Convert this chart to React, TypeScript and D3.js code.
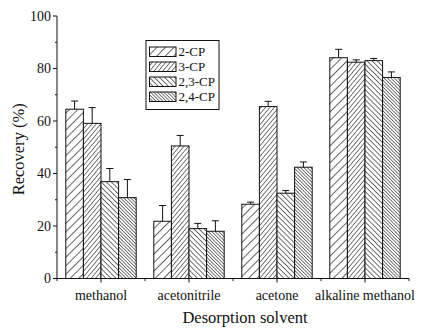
import React from "react";
import * as d3 from "d3";

const categories = ["methanol", "acetonitrile", "acetone", "alkaline methanol"];
const seriesNames = ["2-CP", "3-CP", "2,3-CP", "2,4-CP"];
const values2CP = [64.5, 21.8, 28.3, 84.1];
const values3CP = [59.1, 50.5, 65.5, 82.4];
const values23CP = [36.9, 19.0, 32.5, 83.0];
const values24CP = [30.8, 18.0, 42.4, 76.6];
const err2CP = [3.1, 6.0, 0.8, 3.2];
const err3CP = [6.0, 4.0, 2.0, 0.9];
const err23CP = [5.0, 2.0, 1.0, 0.8];
const err24CP = [6.9, 4.0, 2.0, 2.1];
const yTicks = [0, 20, 40, 60, 80, 100];

const seriesValues = [values2CP, values3CP, values23CP, values24CP];
const seriesErrors = [err2CP, err3CP, err23CP, err24CP];
const patternIds = ["p0", "p1", "p2", "p3"];

const W = 426, H = 332;
const left = 57, right = 409, top = 16, bottom = 278.5;
const FONT = "'Liberation Serif', 'Times New Roman', serif";

export default function App() {
  const x = d3.scaleLinear().domain([0.5, 4.5]).range([left, right]);
  const y = d3.scaleLinear().domain([0, 100]).range([bottom, top]);
  const barW = x(0.2) - x(0);
  const minorY = d3.range(10, 100, 20);
  const minorX = [0.5, 1.5, 2.5, 3.5, 4.5];

  return (
    <svg width={W} height={H} style={{ display: "block", position: "absolute", left: 0, top: 0 }} fontFamily={FONT}>
      <defs>
        <pattern id="p0" patternUnits="userSpaceOnUse" width={6} height={6} patternTransform="rotate(45)">
          <rect width={6} height={6} fill="#fff" />
          <line x1={0} y1={0} x2={0} y2={6} stroke="#222" strokeWidth={1.4} />
        </pattern>
        <pattern id="p1" patternUnits="userSpaceOnUse" width={3.4} height={3.4} patternTransform="rotate(40)">
          <rect width={3.4} height={3.4} fill="#fff" />
          <line x1={0} y1={0} x2={0} y2={3.4} stroke="#222" strokeWidth={1.2} />
        </pattern>
        <pattern id="p2" patternUnits="userSpaceOnUse" width={3.6} height={3.6} patternTransform="rotate(-45)">
          <rect width={3.6} height={3.6} fill="#fff" />
          <line x1={0} y1={0} x2={0} y2={3.6} stroke="#222" strokeWidth={1.3} />
        </pattern>
        <pattern id="p3" patternUnits="userSpaceOnUse" width={2.4} height={2.4} patternTransform="rotate(-45)">
          <rect width={2.4} height={2.4} fill="#fff" />
          <line x1={0} y1={0} x2={0} y2={2.4} stroke="#222" strokeWidth={1.2} />
        </pattern>
      </defs>
      <rect width={W} height={H} fill="#fff" />

      {/* bars */}
      {seriesValues.map((vals, si) =>
        vals.map((v, ci) => {
          const x0 = x(ci + 1 - 0.4 + si * 0.2);
          const cx = x0 + barW / 2;
          const e = seriesErrors[si][ci];
          return (
            <g key={`${si}-${ci}`}>
              <line x1={cx} x2={cx} y1={y(v)} y2={y(v + e)} stroke="#111" strokeWidth={1} />
              <line x1={cx - 3.5} x2={cx + 3.5} y1={y(v + e)} y2={y(v + e)} stroke="#111" strokeWidth={1} />
              <rect x={x0} y={y(v)} width={barW} height={y(0) - y(v)} fill={`url(#${patternIds[si]})`} stroke="#111" strokeWidth={1} />
            </g>
          );
        })
      )}

      {/* axes */}
      <line x1={left} x2={left} y1={top} y2={bottom} stroke="#111" strokeWidth={1} />
      <line x1={left} x2={right} y1={bottom} y2={bottom} stroke="#111" strokeWidth={1} />
      {yTicks.map((t) => (
        <g key={t}>
          <line x1={left - 4} x2={left} y1={y(t)} y2={y(t)} stroke="#111" />
          <text x={left - 6} y={y(t)} dy="0.35em" textAnchor="end" fontSize={14} fill="#111">{t}</text>
        </g>
      ))}
      {minorY.map((t) => (
        <line key={t} x1={left - 2} x2={left} y1={y(t)} y2={y(t)} stroke="#111" />
      ))}
      {categories.map((c, i) => (
        <g key={c}>
          <line x1={x(i + 1)} x2={x(i + 1)} y1={bottom} y2={bottom + 4} stroke="#111" />
          <text x={x(i + 1)} y={bottom + 21} textAnchor="middle" fontSize={14} fill="#111">{c}</text>
        </g>
      ))}
      {minorX.map((t) => (
        <line key={t} x1={x(t)} x2={x(t)} y1={bottom} y2={bottom + 2.5} stroke="#111" />
      ))}

      <text x={245} y={323} textAnchor="middle" fontSize={16.5} fill="#111">Desorption solvent</text>
      <text transform={`translate(24, ${(top + bottom) / 2 + 2}) rotate(-90)`} textAnchor="middle" fontSize={16.5} fill="#111">Recovery (%)</text>

      {/* legend */}
      <rect x={146} y={40.5} width={73} height={69} fill="#fff" stroke="#111" strokeWidth={1} />
      {seriesNames.map((s, i) => (
        <g key={s}>
          <rect x={149.5} y={47 + i * 15} width={26.5} height={9.5} fill={`url(#${patternIds[i]})`} stroke="#111" strokeWidth={1} />
          <text x={178.5} y={51.8 + i * 15} dy="0.35em" fontSize={13} fill="#111">{s}</text>
        </g>
      ))}
    </svg>
  );
}
